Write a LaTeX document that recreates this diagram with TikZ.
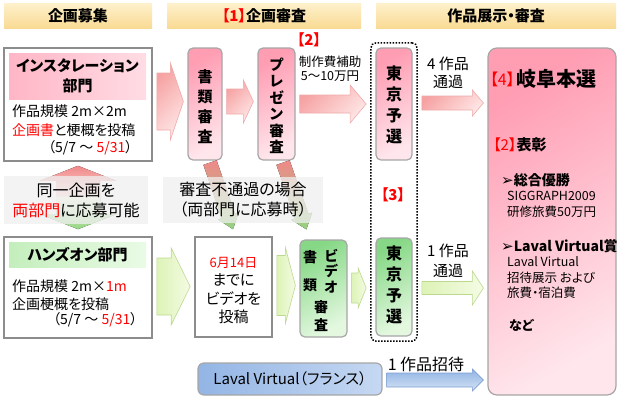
\documentclass[tikz,border=0pt]{standalone}
\usepackage{fontspec}
\setmainfont{Noto Sans CJK JP}[RawFeature=+palt]
\newfontfamily\arrowfont{DejaVu Sans}
\usetikzlibrary{positioning,calc,fit}
\definecolor{hdrtop}{HTML}{FEF1CC}
\definecolor{hdrbot}{HTML}{F9DA94}
\definecolor{framegray}{HTML}{8C8C8C}
\definecolor{boxgray}{HTML}{A6A6A6}
\definecolor{pinkdark}{HTML}{FF9DB3}
\definecolor{pinklight}{HTML}{FFE6EC}
\definecolor{greendark}{HTML}{86D886}
\definecolor{greenlight}{HTML}{E4F8E0}
\definecolor{pinkbandL}{HTML}{FFB6C6}
\definecolor{pinkbandR}{HTML}{FFDCE4}
\definecolor{greenbandL}{HTML}{C4EEBC}
\definecolor{greenbandR}{HTML}{E9FBE6}
\definecolor{notegray}{HTML}{EFEFEF}
\definecolor{arrpinkA}{HTML}{F6A2A2}
\definecolor{arrpinkB}{HTML}{FFE6E6}
\definecolor{arrpinkE}{HTML}{EFAAAA}
\definecolor{arrgreenA}{HTML}{DDF3B6}
\definecolor{arrgreenB}{HTML}{F4FBE4}
\definecolor{arrgreenE}{HTML}{BCD98F}
\definecolor{arrblueA}{HTML}{8FB3E3}
\definecolor{arrblueB}{HTML}{D5E3F5}
\definecolor{arrblueE}{HTML}{7D9ED0}
\definecolor{blueboxL}{HTML}{93B5E5}
\definecolor{blueboxR}{HTML}{C6D8F2}
\definecolor{failtop}{HTML}{F08888}
\definecolor{failbot}{HTML}{94D482}
\definecolor{textred}{HTML}{FF0000}
\newcommand{\fs}[2]{\fontsize{#1}{#2}\selectfont}
\newcommand{\rd}[1]{\textcolor{textred}{#1}}
% block arrow between two nodes: [style]{from}{to}{y}{shaft half}{head half}{head length}
\newcommand{\fatarrow}[7][]{%
  \path (#2.east |- 0,#4) ++(4,0) coordinate (fa-s) (#3.west |- 0,#4) ++(-4,0) coordinate (fa-e);
  \draw[#1] ($(fa-s)+(0,-#5)$) -- ($(fa-e)+(-#7,-#5)$) -- ($(fa-e)+(-#7,-#6)$) -- (fa-e)
    -- ($(fa-e)+(-#7,#6)$) -- ($(fa-e)+(-#7,#5)$) -- ($(fa-s)+(0,#5)$) -- cycle;}
% slanted arrow from a coordinate to a coordinate
\newcommand{\slantarrow}[3][]{%
  \coordinate (sa-b) at ($(#3)!14pt!(#2)$);
  \fill[#1] ($(#2)!7pt!90:(#3)$) -- ($(sa-b)!7pt!90:(#3)$) -- ($(sa-b)!11pt!90:(#3)$) -- (#3)
    -- ($(sa-b)!11pt!-90:(#3)$) -- ($(sa-b)!7pt!-90:(#3)$) -- ($(#2)!7pt!-90:(#3)$) -- cycle;}
\tikzset{
  hdrbar/.style={top color=hdrtop, bottom color=hdrbot, minimum height=25, inner sep=0pt, font=\fs{15}{18}\bfseries},
  entrybox/.style={draw=framegray, line width=1.6pt, fill=white, inner sep=0pt},
  pinkband/.style={left color=pinkbandL, right color=pinkbandR, inner sep=0pt, align=center, font=\fs{15}{20}\bfseries},
  greenband/.style={left color=greenbandL, right color=greenbandR, inner sep=0pt, align=center, font=\fs{15}{20}\bfseries},
  pinkbox/.style={draw=boxgray, line width=1.2pt, rounded corners=5pt, top color=pinkdark, bottom color=pinklight, shading angle=30, inner sep=0pt},
  greenbox/.style={draw=boxgray, line width=1.2pt, rounded corners=5pt, top color=greendark, bottom color=greenlight, shading angle=30, inner sep=0pt},
  bluebox/.style={draw=boxgray, line width=1.2pt, rounded corners=6pt, left color=blueboxL, right color=blueboxR, inner sep=0pt},
  dotbox/.style={draw=black, line width=1.5pt, dash pattern=on 1.5pt off 1.5pt, rounded corners=5pt, inner sep=4.5pt},
  notebox/.style={fill=notegray, fill opacity=0.75, text opacity=1, inner sep=0pt, align=center, font=\fs{16}{20}},
  vtext/.style={inner sep=0pt, align=center, font=\fs{15}{20}\bfseries},
  lbl/.style={inner sep=0pt, font=\fs{14}{17}},
  small/.style={inner sep=0pt, font=\fs{12.5}{14}},
  pinkarrow/.style={draw=arrpinkE, line width=0.6pt, top color=arrpinkA, bottom color=arrpinkB, shading angle=45},
  greenarrow/.style={draw=arrgreenE, line width=0.6pt, left color=arrgreenA, right color=arrgreenB},
  bluearrow/.style={draw=arrblueE, line width=0.6pt, top color=arrblueA, bottom color=arrblueB},
  failarrow/.style={top color=failtop, bottom color=failbot},
}
\begin{document}
\begin{tikzpicture}[x=1pt,y=-1pt]
\useasboundingbox (0,0) rectangle (622,400);
% column headers
\node[hdrbar, minimum width=148] (hdrA) at (78,15.5) {企画募集};
\node[hdrbar, minimum width=194] (hdrB) at (264,15.5) {\rd{【1】}企画審査};
\node[hdrbar, minimum width=240] (hdrC) at (496,15.5) {作品展示・審査};
% entry sections
\node[entrybox, minimum width=148, minimum height=113] (inst) at (78,104.5) {};
\node[pinkband, minimum width=137, minimum height=46] (instT) at (77.5,76) {インスタレーション\\部門};
\node[lbl, anchor=west] (instA) at (12,111) {作品規模 2m×2m};
\node[lbl, anchor=west] (instB) at (12,130) {\rd{企画書}と梗概を投稿};
\node[lbl, anchor=west] (instC) at (48,148) {（5/7 ～ \rd{5/31}）};
\node[entrybox, minimum width=148, minimum height=101] (hands) at (78,287.5) {};
\node[greenband, minimum width=137, minimum height=25] (handsT) at (77.5,254.5) {ハンズオン部門};
\node[lbl, anchor=west] (handsA) at (12,286) {作品規模 2m×\rd{1m}};
\node[lbl, anchor=west] (handsB) at (12,304) {企画梗概を投稿};
\node[lbl, anchor=west] (handsC) at (53,320) {（5/7 ～ \rd{5/31}）};
% review steps
\node[pinkbox, minimum width=34, minimum height=112] (shorui) at (205,104) {};
\node[vtext] (shoruiT) at (205,107) {書\\類\\審\\査};
\node[pinkbox, minimum width=37, minimum height=112] (presen) at (276.5,104) {};
\node[vtext, font=\fs{14.5}{16.5}\bfseries] (presenT) at (276.5,106) {プ\\レ\\ゼ\\ン\\審\\査};
\node[entrybox, minimum width=77, minimum height=100] (video) at (233.5,287) {};
\node[vtext, font=\fs{15}{18.3}] (videoT) at (233.5,290.5) {{\fs{13}{18.3}\rd{6月14日}}\\までに\\ビデオを\\投稿};
\node[greenbox, minimum width=47, minimum height=97] (vshinsa) at (323.5,288.5) {};
\node[vtext, font=\fs{14}{15.5}\bfseries] (vsR) at (331,271) {ビ\\デ\\オ};
\node[vtext, font=\fs{14}{28}\bfseries] (vsL) at (310,271) {書\\類};
\node[vtext, font=\fs{14}{18}\bfseries] (vsB) at (321,316) {審\\査};
% tokyo preliminaries
\node[pinkbox, minimum width=36, minimum height=112] (tokyoA) at (394,104) {};
\node[vtext, font=\fs{16}{21}\bfseries] (tokyoAT) at (394,105) {東\\京\\予\\選};
\node[greenbox, minimum width=36, minimum height=98] (tokyoB) at (394,287) {};
\node[vtext, font=\fs{16}{21}\bfseries] (tokyoBT) at (394,285) {東\\京\\予\\選};
\node[dotbox, fit=(tokyoA)(tokyoB)] (tokyo) {};
\node[vtext, text=textred] (tag3) at (393,195) {【3】};
% final
\node[pinkbox, rounded corners=9pt, minimum width=128, minimum height=347] (gifu) at (552,221.5) {};
\node[inner sep=0pt, anchor=east, font=\fs{16}{16}, text=textred] (tag4) at (515,79) {【4】};
\node[inner sep=0pt, anchor=west, font=\fs{20}{20}\bfseries] (gifuT) at (516,79) {岐阜本選};
\node[lbl, anchor=west, font=\fs{15}{15}] (award) at (493,145) {\rd{【2】}\textbf{表彰}};
\node[lbl, anchor=west, font=\fs{14}{14}\bfseries] (prizeA) at (501,180) {{\arrowfont\fs{15}{15}➢}総合優勝};
\node[small, anchor=west] (prizeA1) at (507,196) {SIGGRAPH2009};
\node[small, anchor=west] (prizeA2) at (507,212) {研修旅費50万円};
\node[lbl, anchor=west, font=\fs{14}{14}\bfseries] (prizeB) at (501,246) {{\arrowfont\fs{15}{15}➢}Laval Virtual賞};
\node[small, anchor=west] (prizeB1) at (507,262) {Laval Virtual};
\node[small, anchor=west] (prizeB2) at (507,278) {招待展示 および};
\node[small, anchor=west] (prizeB3) at (507,293) {旅費・宿泊費};
\node[small, anchor=west, font=\fs{13}{13}\bfseries] (prizeC) at (509,325) {など};
% invitation
\node[bluebox, minimum width=184, minimum height=32, font=\fs{15}{15}] (laval) at (290,379) {Laval Virtual（フランス）};
% block arrows
\fatarrow[pinkarrow]{inst}{shorui}{101.5}{28.5}{38.5}{13}
\fatarrow[pinkarrow]{shorui}{presen}{101.5}{12.5}{21.5}{10}
\fatarrow[pinkarrow]{presen}{tokyo}{104}{9}{19}{16}
\fatarrow[pinkarrow]{tokyo}{gifu}{103}{7}{13}{11}
\fatarrow[greenarrow]{hands}{video}{286.5}{28.5}{38.5}{19}
\fatarrow[greenarrow]{video}{vshinsa}{285.5}{30}{38}{10}
\fatarrow[greenarrow]{vshinsa}{tokyo}{288}{15}{20}{8}
\fatarrow[greenarrow]{tokyo}{gifu}{288}{6.5}{17}{11}
\fatarrow[bluearrow]{laval}{gifu}{380}{7}{11}{11}
\node[inner sep=0pt, align=center, font=\fs{15}{18}] (pass4) at (448,73) {4 作品\\通過};
\node[inner sep=0pt, align=center, font=\fs{15}{20}] (pass1) at (448,261) {1 作品\\通過};
\node[inner sep=0pt, font=\fs{16}{16}] (invite) at (426,364) {1 作品招待};
\node[vtext, text=textred] (tag2) at (309,40) {【2】};
\node[small, align=center] (subsidy) at (330,69) {制作費補助\\5～10万円};
% both sections
\coordinate (upTip) at ($(inst.south)+(0,4)$);
\coordinate (dnTip) at ($(hands.north)+(0,-7)$);
\fill[top color=failtop, bottom color=arrpinkB] (upTip) -- ++(38,15) -- ++(-16,0) -- ++(0,20) -- ++(-44,0) -- ++(0,-20) -- ++(-16,0) -- cycle;
\fill[top color=arrgreenB, bottom color=failbot] (dnTip) -- ++(38,-15) -- ++(-16,0) -- ++(0,-17) -- ++(-44,0) -- ++(0,17) -- ++(-16,0) -- cycle;
\node[notebox, minimum width=144, minimum height=48] (dual) at (76,200) {同一企画を\\\rd{両部門}に応募可能};
% failed review
\coordinate (failAs) at ($(shorui.south)+(5,2)$);
\coordinate (failAe) at ($(video.north)+(-0.5,-7)$);
\coordinate (failBs) at ($(presen.south)+(6.5,2)$);
\coordinate (failBe) at ($(vshinsa.north west)+(7,-10)$);
\slantarrow[failarrow]{failAs}{failAe}
\slantarrow[failarrow]{failBs}{failBe}
\node[notebox, minimum width=160, minimum height=46] (fail) at (243,200) {審査不通過の場合\\（両部門に応募時）};
\end{tikzpicture}
\end{document}
